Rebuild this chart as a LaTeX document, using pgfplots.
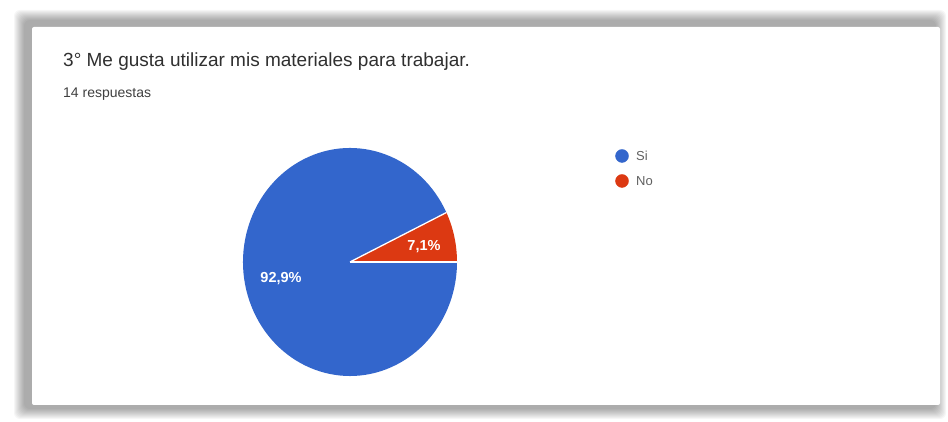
\documentclass[border=0pt]{standalone}
\usepackage{pgfplots}
\pgfplotsset{compat=1.18}
\usepackage{pgfplotstable}
\usepackage{fontspec}
\setmainfont{Liberation Sans}

\definecolor{siblue}{HTML}{3366CC}
\definecolor{nored}{HTML}{DC3912}
\definecolor{titlegray}{HTML}{303030}
\definecolor{subgray}{HTML}{404040}
\definecolor{leggray}{HTML}{606060}

% 14 respuestas
\pgfplotstableread{
respuesta n
Si 13
No 1
}\respuestas

\begin{document}
\begin{tikzpicture}
\pgfplotstablegetelem{0}{n}\of\respuestas \pgfmathsetmacro\nSi{\pgfplotsretval}
\pgfplotstablegetelem{1}{n}\of\respuestas \pgfmathsetmacro\nNo{\pgfplotsretval}
\pgfmathsetmacro\aNo{360*\nNo/(\nSi+\nNo)}
\begin{axis}[
    width=948pt, height=422pt, scale only axis,
    xmin=0, xmax=948, ymin=0, ymax=422,
    hide axis, clip=false,
]
% card shadow
\pgfplotsinvokeforeach{0,...,10}{
    \fill[black, opacity=0.035, rounded corners=6pt]
        (axis cs:14+#1,3+#1) rectangle (axis cs:946-#1,412-#1);
}
\fill[white, rounded corners=2pt] (axis cs:32,17) rectangle (axis cs:940,395);

% title
\node[anchor=base west, inner sep=0pt, text=titlegray,
      font=\fontsize{19}{22}\selectfont] at (axis cs:63,355)
    {3° Me gusta utilizar mis materiales para trabajar.};
\node[anchor=base west, inner sep=0pt, text=subgray,
      font=\fontsize{14}{17}\selectfont] at (axis cs:63,324)
    {14 respuestas};

% pie
\fill[siblue] (axis cs:350,160) -- ++(\aNo:107pt and 114pt)
    arc[start angle=\aNo, end angle=360, x radius=107pt, y radius=114pt] -- cycle;
\fill[nored] (axis cs:350,160) -- ++(0:107pt and 114pt)
    arc[start angle=0, end angle=\aNo, x radius=107pt, y radius=114pt] -- cycle;
\draw[white, line width=1.3pt] (axis cs:350,160) -- ++(0:107pt and 114pt);
\draw[white, line width=1.3pt] (axis cs:350,160) -- ++(\aNo:107pt and 114pt);

\node[inner sep=0pt, text=white, font=\bfseries\fontsize{14.5}{16}\selectfont]
    at (axis cs:424,175) {7,1\%};
\node[inner sep=0pt, text=white, font=\bfseries\fontsize{14.5}{16}\selectfont]
    at (axis cs:281,143) {92,9\%};

% legend
\addplot[only marks, mark=*, mark size=6.5pt, color=siblue] coordinates {(622,266)};
\addplot[only marks, mark=*, mark size=6.5pt, color=nored] coordinates {(622,241)};
\node[anchor=base west, inner sep=0pt, text=leggray, font=\fontsize{13}{15}\selectfont]
    at (axis cs:636,261.5) {Si};
\node[anchor=base west, inner sep=0pt, text=leggray, font=\fontsize{13}{15}\selectfont]
    at (axis cs:636,236.5) {No};
\end{axis}
\pgfresetboundingbox
\path[use as bounding box] (current axis.south west) rectangle (current axis.north east);
\end{tikzpicture}
\end{document}
